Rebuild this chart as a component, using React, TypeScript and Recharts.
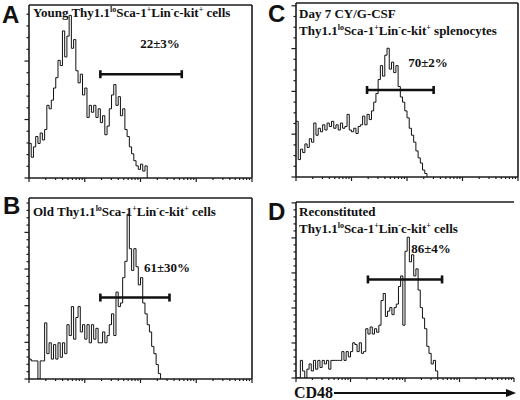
import React from "react";
import { LineChart, Line, XAxis, YAxis, ReferenceLine } from "recharts";

// histogram counts per channel bin (100 bins over 4 log decades), % of panel height
const youngCounts = [
  20, 12, 18, 24, 20, 26, 22, 28, 42, 40, 45, 52, 58, 68, 65, 85, 70, 82, 94, 75,
  80, 62, 55, 60, 48, 52, 35, 42, 38, 42, 35, 40, 32, 36, 25, 30, 40, 48, 54, 42,
  47, 36, 40, 28, 24, 18, 14, 10, 7, 5, 8, 4, 7, 0,
];
const oldCounts = [
  11, 10, 10, 10, 0, 10, 10, 31, 14, 20, 11, 19, 11, 20, 12, 20, 14, 30, 24, 40,
  22, 34, 40, 26, 30, 22, 30, 20, 30, 22, 28, 20, 20, 26, 20, 24, 30, 36, 24, 48,
  40, 42, 56, 65, 91, 72, 60, 72, 62, 52, 56, 42, 36, 30, 26, 18, 14, 8, 3, 0,
];
const day7Counts = [
  32, 10, 16, 14, 19, 17, 22, 20, 31, 24, 28, 26, 30, 27, 31, 29, 32, 28, 30, 27,
  31, 28, 29, 36, 27, 26, 28, 25, 29, 30, 35, 30, 36, 33, 38, 43, 48, 56, 64, 58,
  70, 74, 62, 66, 60, 64, 52, 46, 43, 38, 34, 28, 24, 20, 15, 11, 8, 4, 2, 0,
];
const reconCounts = [
  0, 0, 10, 4, 0, 5, 8, 4, 10, 5, 10, 6, 10, 8, 10, 5, 10, 10, 10, 10,
  10, 15, 10, 15, 12, 15, 20, 19, 15, 20, 14, 15, 28, 25, 29, 25, 28, 26, 30, 44,
  48, 35, 38, 40, 36, 40, 42, 52, 58, 30, 72, 80, 66, 70, 58, 62, 50, 40, 34, 28,
  18, 14, 8, 10, 4, 0,
];

// gate: start bin, end bin, height
const gateA = [32, 68.5, 60];
const gateB = [32, 63, 45];
const gateC = [32, 62, 50];
const gateD = [33, 67, 56];

const gateLabels = ["22±3%", "61±30%", "70±2%", "86±4%"];

const decades = [0, 1, 2, 3];
const perDecade = [1, 2, 3, 4, 5, 6, 7, 8, 9];
const xTicks = decades
  .flatMap((d) => perDecade.map((k) => 25 * (d + Math.log10(k))))
  .concat(100);

const INK = "#1c1c1c";
const serif = "'Liberation Serif', 'Times New Roman', serif";
const sans = "'Liberation Sans', Arial, sans-serif";

function XTick(props: any) {
  const { x, y, payload } = props;
  const d = payload.value / 25;
  const major = Math.abs(d - Math.round(d)) < 1e-6;
  return <line x1={x} x2={x} y1={y} y2={y + (major ? 4 : 2)} stroke={INK} strokeWidth={1.2} />;
}

function makeYTick(step: number, every: number) {
  return (props: any) => {
    const { x, y, payload } = props;
    const k = Math.round(payload.value / step);
    const major = k % every === 0;
    return <line x1={x} x2={x - (major ? 4.5 : 2.5)} y1={y} y2={y} stroke={INK} strokeWidth={1.2} />;
  };
}

type PanelProps = {
  counts: number[];
  gate: number[];
  left: number;
  top: number;
  w: number;
  h: number;
  yStep: number;
  yEvery: number;
  rightBorder?: boolean;
};

function Panel({ counts, gate, left, top, w, h, yStep, yEvery, rightBorder = true }: PanelProps) {
  const data = counts.map((c, i) => ({ bin: i, count: c }));
  const yTicks: number[] = [];
  for (let v = 0; v <= 100.01; v += yStep) yTicks.push(v);
  const cap = (4 / h) * 100;
  const [g0, g1, gy] = gate;
  return (
    <div style={{ position: "absolute", left: left - 10, top: top - 5 }}>
      <LineChart
        width={w + 20}
        height={h + 17}
        data={data}
        margin={{ top: 5, right: 10, bottom: 0, left: 0 }}
      >
        <XAxis
          dataKey="bin"
          type="number"
          domain={[0, 100]}
          ticks={xTicks}
          interval={0}
          height={12}
          tickSize={0}
          tickMargin={0}
          tickLine={false}
          tick={<XTick />}
          axisLine={{ stroke: INK, strokeWidth: 1.6 }}
          allowDataOverflow
        />
        <YAxis
          type="number"
          domain={[0, 100]}
          ticks={yTicks}
          interval={0}
          width={10}
          tickSize={0}
          tickMargin={0}
          tickLine={false}
          tick={makeYTick(yStep, yEvery)}
          axisLine={{ stroke: INK, strokeWidth: 1.6 }}
          allowDataOverflow
        />
        <ReferenceLine y={100} stroke={INK} strokeWidth={1.6} />
        {rightBorder && <ReferenceLine x={100} stroke={INK} strokeWidth={1.6} />}
        <Line
          type="stepAfter"
          dataKey="count"
          stroke="#111"
          strokeWidth={1}
          dot={false}
          isAnimationActive={false}
        />
        <ReferenceLine segment={[{ x: g0, y: gy }, { x: g1, y: gy }]} stroke="#111" strokeWidth={2.6} />
        <ReferenceLine segment={[{ x: g0, y: gy - cap }, { x: g0, y: gy + cap }]} stroke="#111" strokeWidth={2.6} />
        <ReferenceLine segment={[{ x: g1, y: gy - cap }, { x: g1, y: gy + cap }]} stroke="#111" strokeWidth={2.6} />
      </LineChart>
    </div>
  );
}

const Sup = ({ children }: { children: React.ReactNode }) => (
  <span style={{ fontSize: 8, position: "relative", top: -5 }}>{children}</span>
);

const Cells = ({ tail }: { tail: string }) => (
  <>
    Thy1.1<Sup>lo</Sup>Sca-1<Sup>+</Sup>Lin<Sup>-</Sup>c-kit<Sup>+</Sup> {tail}
  </>
);

const textStyle: React.CSSProperties = {
  position: "absolute",
  fontFamily: serif,
  fontWeight: "bold",
  fontSize: 13,
  lineHeight: "15px",
  whiteSpace: "nowrap",
  color: "#111",
};

const letterStyle: React.CSSProperties = {
  position: "absolute",
  fontFamily: sans,
  fontWeight: "bold",
  fontSize: 24,
  lineHeight: "26px",
  color: "#111",
};

function Pct({ x, y, text }: { x: number; y: number; text: string }) {
  return (
    <div style={{ ...textStyle, left: x, top: y, transform: "translate(-50%, -50%)" }}>{text}</div>
  );
}

export default function App() {
  return (
    <div style={{ position: "absolute", left: 0, top: 0, width: 520, height: 400, background: "#fff" }}>
      <Panel counts={youngCounts} gate={gateA} left={29} top={5} w={223} h={173} yStep={6.76} yEvery={5} />
      <Panel counts={oldCounts} gate={gateB} left={29} top={198} w={223} h={181} yStep={4.05} yEvery={5} />
      <Panel counts={day7Counts} gate={gateC} left={296} top={3} w={222} h={174} yStep={6.15} yEvery={4} />
      <Panel counts={reconCounts} gate={gateD} left={296} top={202} w={218} h={176} yStep={3.98} yEvery={5} rightBorder={false} />

      <div style={{ ...letterStyle, left: 2, top: 2 }}>A</div>
      <div style={{ ...letterStyle, left: 3, top: 193 }}>B</div>
      <div style={{ ...letterStyle, left: 268, top: 1 }}>C</div>
      <div style={{ ...letterStyle, left: 268, top: 199 }}>D</div>

      <div style={{ ...textStyle, left: 33, top: 5 }}>
        Young <Cells tail="cells" />
      </div>
      <div style={{ ...textStyle, left: 33, top: 204 }}>
        Old <Cells tail="cells" />
      </div>
      <div style={{ ...textStyle, left: 299, top: 6 }}>Day 7 CY/G-CSF</div>
      <div style={{ ...textStyle, left: 299, top: 23 }}>
        <Cells tail="splenocytes" />
      </div>
      <div style={{ ...textStyle, left: 299, top: 204 }}>Reconstituted</div>
      <div style={{ ...textStyle, left: 299, top: 221 }}>
        <Cells tail="cells" />
      </div>

      <Pct x={160} y={43} text={gateLabels[0]} />
      <Pct x={167} y={267} text={gateLabels[1]} />
      <Pct x={428} y={62} text={gateLabels[2]} />
      <Pct x={431} y={248} text={gateLabels[3]} />

      <div style={{ ...textStyle, fontSize: 16, lineHeight: "16px", left: 294, top: 385 }}>CD48</div>
      <svg style={{ position: "absolute", left: 334, top: 387 }} width={184} height={12}>
        <line x1={0} y1={6} x2={174} y2={6} stroke="#111" strokeWidth={2} />
        <polygon points="172,2 182,6 172,10" fill="#111" />
      </svg>
    </div>
  );
}
